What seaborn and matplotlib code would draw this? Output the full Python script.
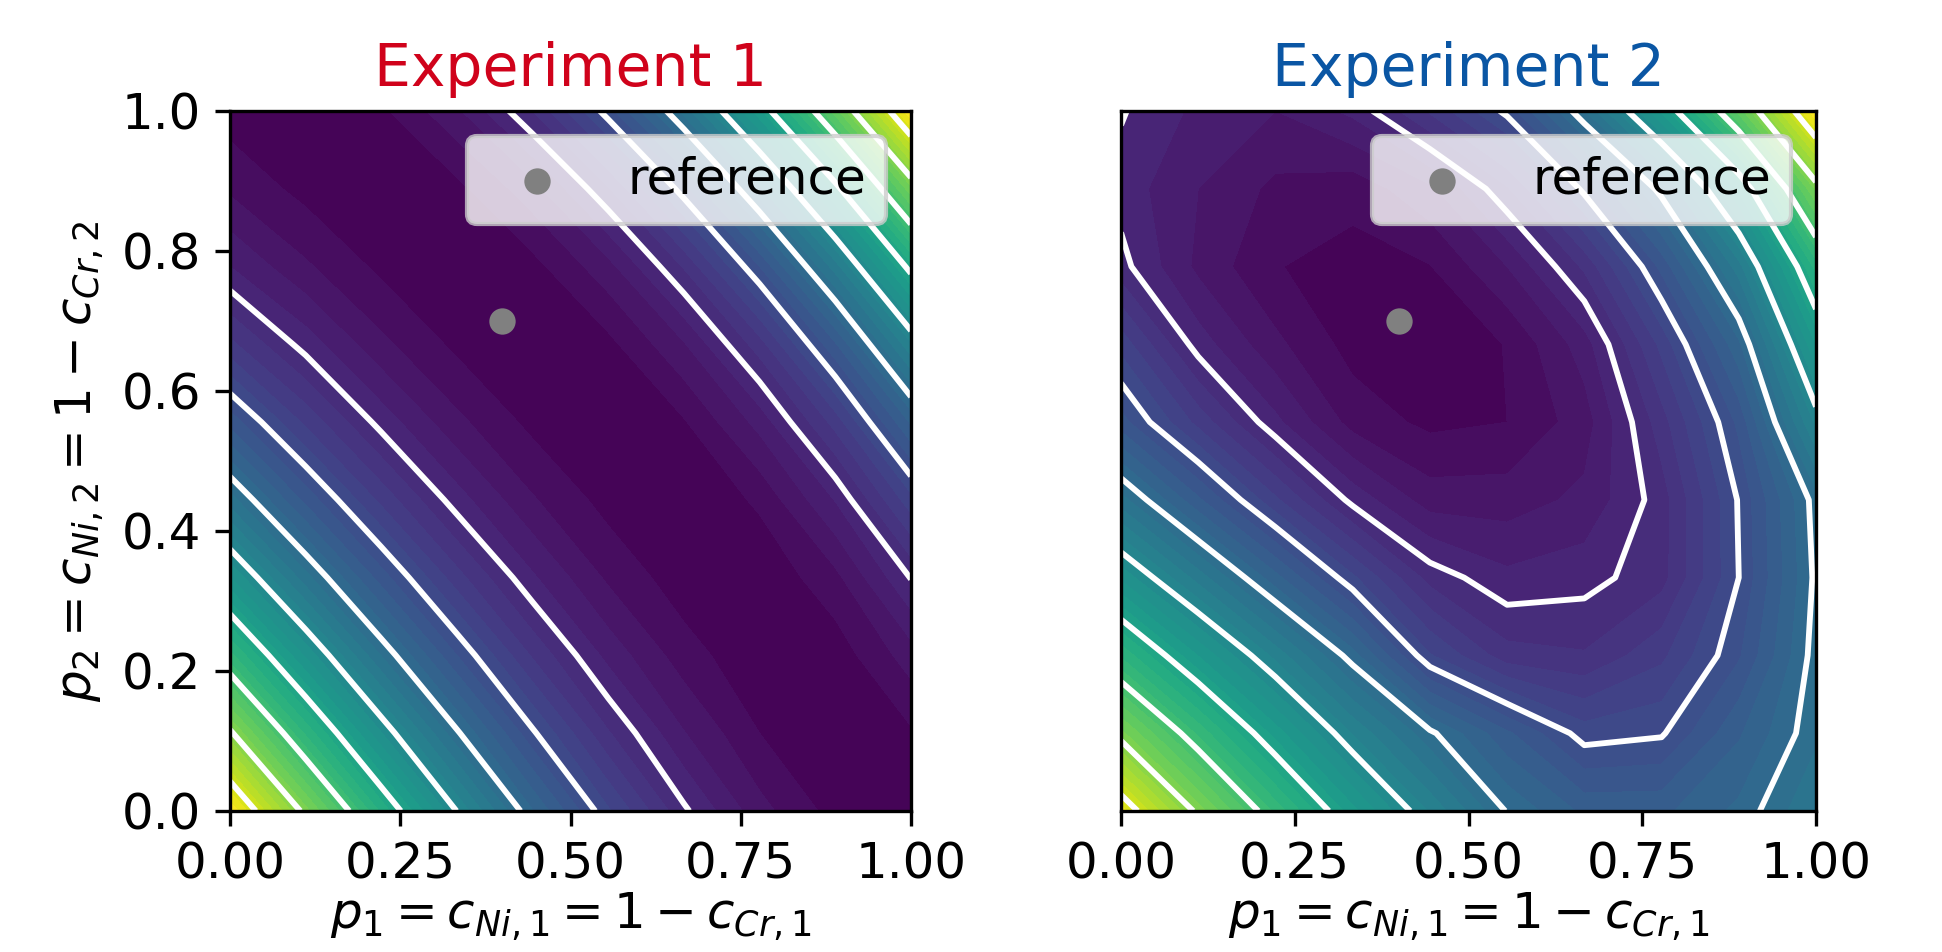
import numpy as np
import matplotlib
matplotlib.use("Agg")
import matplotlib.pyplot as plt
import seaborn as sns

# grid of parameter values (10 x 10 evaluation points)
p1_grid = np.linspace(0, 1, 10)
p2_grid = np.linspace(0, 1, 10)

# objective values, rows = p2 (bottom -> top), cols = p1
exp1_obj = [
    [8.58, 6.88, 5.35, 3.99, 2.81, 1.83, 1.04, 0.47, 0.12, 0.02],
    [7.06, 5.56, 4.21, 3.04, 2.04, 1.22, 0.61, 0.20, 0.01, 0.17],
    [5.67, 4.36, 3.19, 2.20, 1.37, 0.73, 0.29, 0.04, 0.08, 0.50],
    [4.41, 3.28, 2.30, 1.48, 0.83, 0.36, 0.08, 0.03, 0.34, 1.01],
    [3.29, 2.34, 1.54, 0.89, 0.42, 0.12, 0.00, 0.24, 0.81, 1.72],
    [2.32, 1.55, 0.92, 0.45, 0.14, 0.01, 0.18, 0.67, 1.48, 2.63],
    [1.45, 0.91, 0.45, 0.15, 0.01, 0.14, 0.58, 1.31, 2.37, 3.76],
    [0.80, 0.43, 0.15, 0.01, 0.13, 0.53, 1.22, 2.20, 3.50, 5.12],
    [0.36, 0.13, 0.01, 0.14, 0.52, 1.18, 2.11, 3.34, 4.87, 6.73],
    [0.10, 0.00, 0.16, 0.56, 1.20, 2.10, 3.27, 4.74, 6.50, 8.59],
]

exp2_obj = [
    [8.30, 6.91, 5.74, 4.67, 3.77, 2.98, 2.55, 2.55, 2.85, 3.40],
    [6.86, 5.75, 4.71, 3.78, 3.05, 2.44, 1.90, 1.97, 2.57, 3.15],
    [5.56, 4.59, 3.73, 2.89, 1.82, 1.28, 1.22, 1.55, 2.17, 3.10],
    [4.35, 3.51, 2.67, 1.84, 1.12, 0.85, 0.92, 1.12, 2.00, 3.05],
    [3.28, 2.44, 1.64, 0.93, 0.50, 0.50, 0.65, 1.10, 2.02, 3.10],
    [2.28, 1.53, 0.85, 0.32, 0.15, 0.20, 0.50, 1.31, 2.25, 3.85],
    [1.72, 0.90, 0.45, 0.12, 0.05, 0.21, 0.70, 1.66, 2.75, 4.60],
    [1.07, 0.55, 0.21, 0.12, 0.19, 0.60, 1.24, 2.26, 3.51, 5.48],
    [0.91, 0.60, 0.35, 0.27, 0.55, 1.17, 2.06, 3.09, 4.65, 6.84],
    [1.02, 0.75, 0.60, 0.85, 1.43, 2.06, 3.18, 4.64, 6.47, 8.60],
]

ref_p1 = [0.4]
ref_p2 = [0.7]

titles = ["Experiment 1", "Experiment 2"]
title_colors = ["#d0021b", "#0a56a4"]

plt.rcParams["font.family"] = ["DejaVu Sans"]

fig = plt.figure(figsize=(1942 / 300, 952 / 300), dpi=300)
ax1 = fig.add_axes([230 / 1942, 141 / 952, 681 / 1942, 700 / 952])
ax2 = fig.add_axes([1121 / 1942, 141 / 952, 695 / 1942, 700 / 952])

P1, P2 = np.meshgrid(p1_grid, p2_grid)
cmap = sns.color_palette("viridis", as_cmap=True)

for ax, obj, title, tcol in zip([ax1, ax2], [exp1_obj, exp2_obj], titles, title_colors):
    Z = np.array(obj)
    ax.contourf(P1, P2, Z, levels=50, cmap=cmap)
    ax.contour(P1, P2, Z, levels=np.arange(1, 10), colors="white", linewidths=1.4)
    sns.scatterplot(x=ref_p1, y=ref_p2, color="gray", s=40, linewidth=0,
                    label="reference", ax=ax, zorder=5)
    ax.legend(loc="upper right", fontsize=12)
    ax.set_xlim(0, 1)
    ax.set_ylim(0, 1)
    ax.set_xticks([0, 0.25, 0.5, 0.75, 1.0])
    ax.set_title(title, color=tcol, fontsize=14)
    ax.set_xlabel(r"$p_1 = c_{Ni,1} = 1 - c_{Cr,1}$", fontsize=12, labelpad=0.5)
    ax.tick_params(labelsize=12)

ax1.set_ylabel(r"$p_2 = c_{Ni,2} = 1 - c_{Cr,2}$", fontsize=12)
ax2.set_yticks([])
ax2.set_ylabel("")

fig.savefig("out.png", dpi=300)
